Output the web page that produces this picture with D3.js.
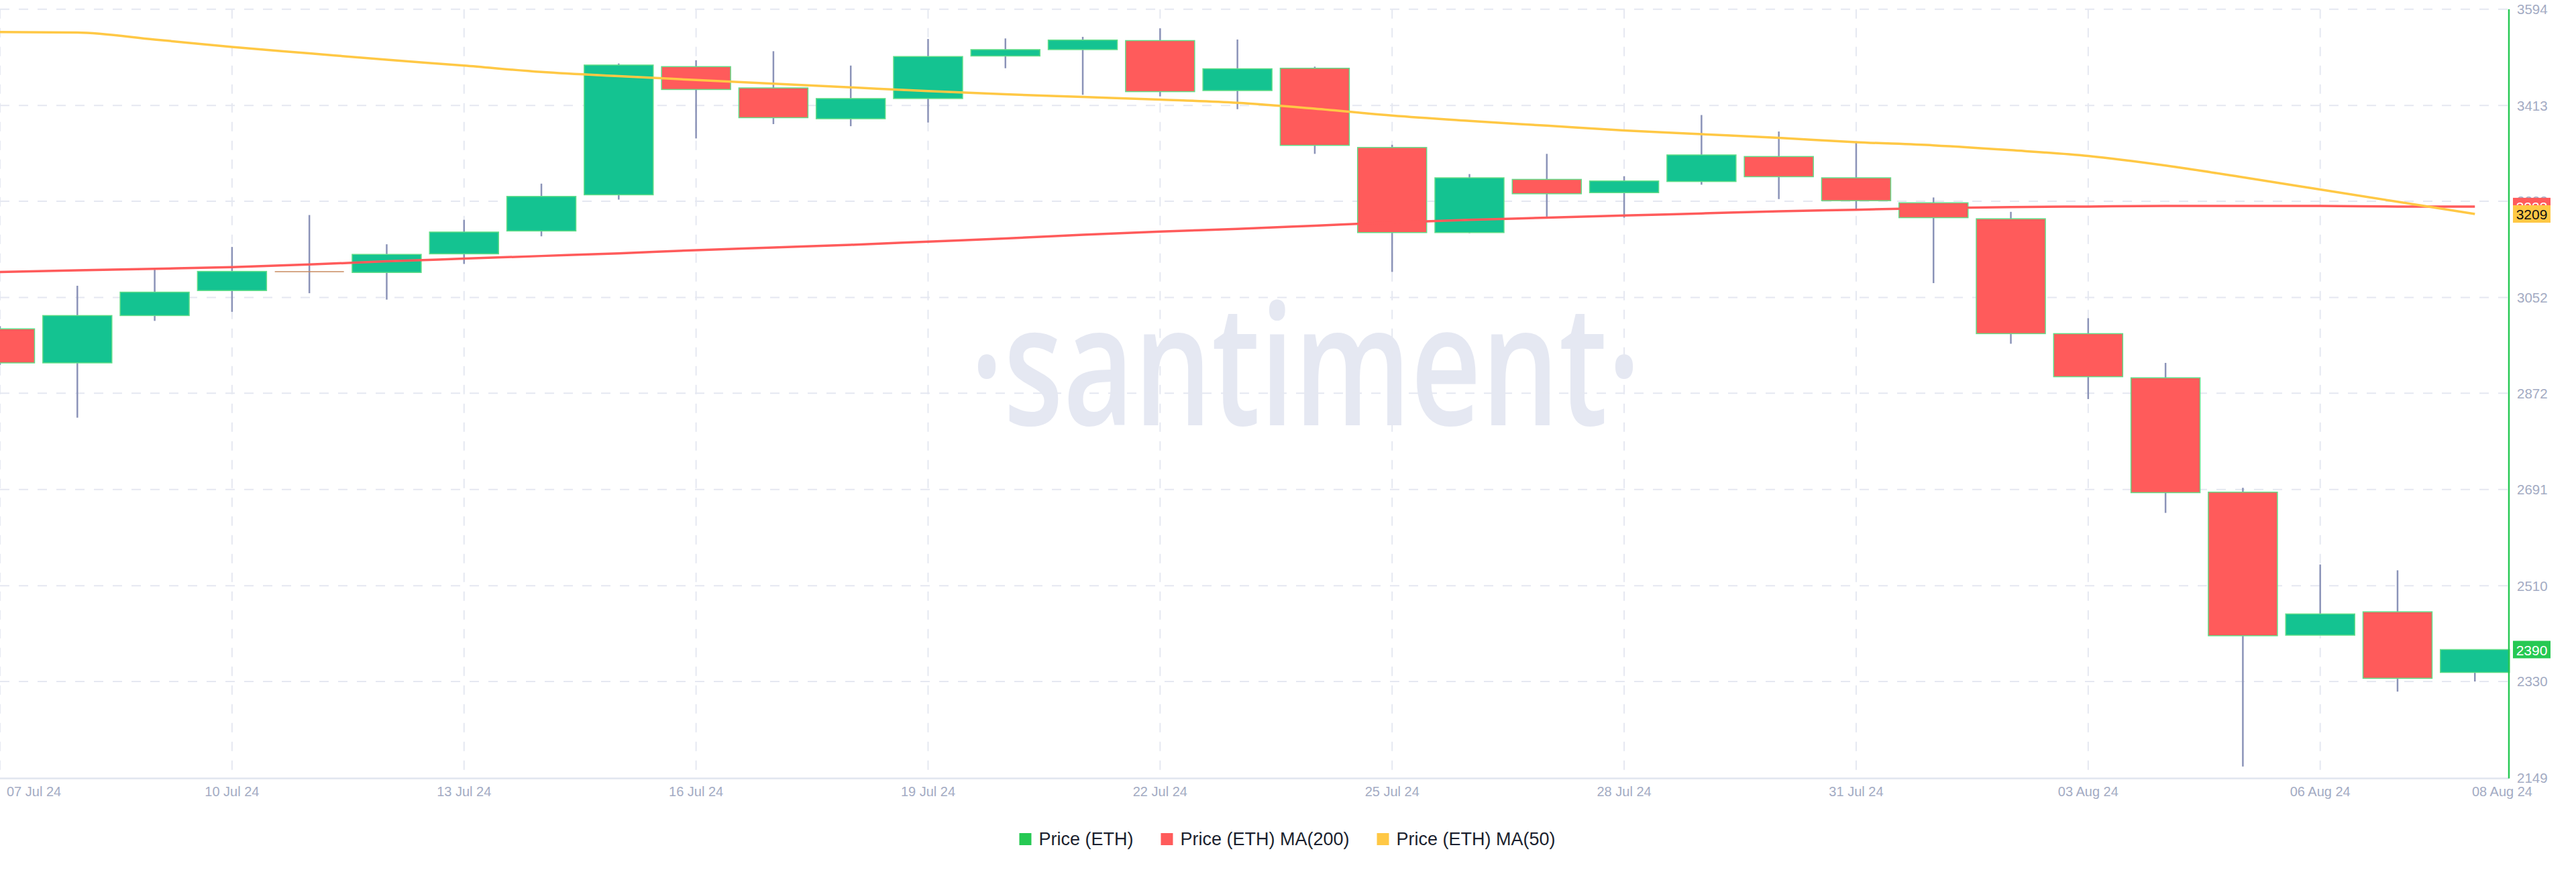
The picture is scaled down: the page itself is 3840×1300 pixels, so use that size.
<!DOCTYPE html>
<html><head><meta charset="utf-8">
<script src="https://cdn.jsdelivr.net/npm/d3@7"></script>
<style>body{margin:0;background:#fff;} svg{display:block}</style>
</head><body><svg id="c" width="3840" height="1300"></svg>
<script>
const dates = ["07 Jul 24","08 Jul 24","09 Jul 24","10 Jul 24","11 Jul 24","12 Jul 24","13 Jul 24","14 Jul 24","15 Jul 24","16 Jul 24","17 Jul 24","18 Jul 24","19 Jul 24","20 Jul 24","21 Jul 24","22 Jul 24","23 Jul 24","24 Jul 24","25 Jul 24","26 Jul 24","27 Jul 24","28 Jul 24","29 Jul 24","30 Jul 24","31 Jul 24","01 Aug 24","02 Aug 24","03 Aug 24","04 Aug 24","05 Aug 24","06 Aug 24","07 Aug 24","08 Aug 24"];
const opens  = [2993,2929,3018,3065,3101,3099,3134,3177,3245,3486,3446,3388,3426,3506,3518,3535,3441,3483,3334,3174,3274,3249,3270,3317,3277,3230,3200,2984,2901,2686,2417,2461,2347];
const closes = [2929,3018,3062,3101,3100,3133,3175,3242,3489,3443,3390,3426,3505,3518,3536,3439,3482,3338,3174,3277,3247,3271,3320,3279,3234,3202,2984,2903,2685,2416,2457,2336,2390];
const highs  = [2998,3074,3105,3147,3207,3152,3198,3266,3492,3498,3515,3488,3538,3539,3542,3558,3537,3486,3339,3284,3322,3280,3395,3364,3343,3240,3213,3013,2929,2694,2550,2539,2390];
const lows   = [2925,2826,3008,3025,3060,3048,3115,3167,3236,3351,3378,3374,3381,3483,3433,3430,3406,3322,3100,3173,3204,3202,3264,3237,3216,3079,2965,2861,2647,2170,2417,2311,2330];
const ma200  = [3100,3103,3106,3109,3114,3120,3125,3130,3135,3141,3146,3151,3157,3163,3170,3176,3181,3187,3193,3198,3202,3206,3210,3214,3217,3220,3222,3223,3224,3224,3224,3223,3223];
const ma50   = [3551,3550,3537,3523,3511,3499,3488,3476,3468,3461,3454,3447,3440,3434,3429,3424,3418,3407,3394,3384,3375,3366,3359,3352,3344,3338,3329,3318,3300,3278,3255,3232,3209];
const yTicks = [2149,2330,2510,2691,2872,3052,3233,3413,3594];
const xTickLabels = ["07 Jul 24","10 Jul 24","13 Jul 24","16 Jul 24","19 Jul 24","22 Jul 24","25 Jul 24","28 Jul 24","31 Jul 24","03 Aug 24","06 Aug 24"];
const lastLabel = "08 Aug 24";
const legendLabels = ["Price (ETH)","Price (ETH) MA(200)","Price (ETH) MA(50)"];

const C = {green:"#14c391", red:"#ff5b5b", yellow:"#ffc845", axisG:"#26c953", wick:"#8b93b8", grid:"#e5e8f1", lbl:"#a3abc3"};
const W = 3740, TOP = 13.7, BOT = 1159.5;
const svg = d3.select("#c");
const x = d3.scaleLinear().domain([0, 32.44]).range([0, W]);
const y = d3.scaleLinear().domain([2149, 3594]).range([BOT, TOP]);
const font = "'Liberation Sans', Arial, sans-serif";

// watermark
svg.append("text").attr("x", 1946).attr("y", 634).attr("text-anchor","middle")
  .attr("font-family","'Open Sans', sans-serif").attr("font-size", 250).attr("font-weight", 600)
  .attr("textLength", 1000).attr("lengthAdjust","spacingAndGlyphs")
  .attr("fill","#e5e8f2").text("·santiment·");

// grid
const g = svg.append("g");
g.selectAll(".hg").data(yTicks.slice(1)).join("line")
  .attr("x1",0).attr("x2",W).attr("y1",d=>y(d)).attr("y2",d=>y(d))
  .attr("stroke",C.grid).attr("stroke-width",2).attr("stroke-dasharray","14,14");
g.selectAll(".vg").data(xTickLabels).join("line")
  .attr("x1",d=>x(dates.indexOf(d))).attr("x2",d=>x(dates.indexOf(d)))
  .attr("y1",TOP).attr("y2",BOT-8)
  .attr("stroke",C.grid).attr("stroke-width",2).attr("stroke-dasharray","14,14");

// bottom axis
svg.append("line").attr("x1",0).attr("x2",W).attr("y1",BOT+1).attr("y2",BOT+1)
  .attr("stroke","#e1e5ef").attr("stroke-width",2.5);

// x labels
svg.selectAll(".xl").data(xTickLabels).join("text")
  .attr("x",(d,i)=> i===0 ? 10 : x(dates.indexOf(d)))
  .attr("text-anchor",(d,i)=> i===0 ? "start" : "middle")
  .attr("y",1187).attr("font-family",font).attr("font-size",20).attr("fill",C.lbl).text(d=>d);
svg.append("text").attr("x",W+35).attr("y",1187).attr("text-anchor","end")
  .attr("font-family",font).attr("font-size",20).attr("fill",C.lbl).text(lastLabel);

// candles
const idx = d3.range(dates.length);
const bw = 103;
svg.append("g").selectAll("line").data(idx).join("line")
  .attr("x1",i=>x(i)).attr("x2",i=>x(i)).attr("y1",i=>y(highs[i])).attr("y2",i=>y(lows[i]))
  .attr("stroke",C.wick).attr("stroke-width",2.5);
const bodies = svg.append("g");
idx.forEach(i=>{
  const o=opens[i], c=closes[i];
  const y1=y(Math.max(o,c)), y2=y(Math.min(o,c));
  if (y2-y1 < 2) {
    bodies.append("line").attr("x1",x(i)-bw/2).attr("x2",x(i)+bw/2).attr("y1",(y1+y2)/2).attr("y2",(y1+y2)/2)
      .attr("stroke","#c98a5f").attr("stroke-width",1.5);
  } else {
    bodies.append("rect").attr("x",x(i)-bw/2).attr("width",bw).attr("y",y1).attr("height",y2-y1)
      .attr("fill", c>=o ? C.green : C.red).attr("stroke","#62dd88").attr("stroke-width",1.5);
  }
});

// MA lines
const line = d3.line().x((d,i)=>x(i)).y(d=>y(d)).curve(d3.curveMonotoneX);
svg.append("path").datum(ma200).attr("d",line).attr("fill","none").attr("stroke",C.red).attr("stroke-width",3.5);
svg.append("path").datum(ma50).attr("d",line).attr("fill","none").attr("stroke",C.yellow).attr("stroke-width",3.5);

// right axis
svg.append("line").attr("x1",W).attr("x2",W).attr("y1",TOP).attr("y2",BOT+1)
  .attr("stroke",C.axisG).attr("stroke-width",2.5);
svg.selectAll(".yl").data(yTicks).join("text")
  .attr("x",W+12).attr("y",d=>y(d)).attr("dominant-baseline","central")
  .attr("font-family",font).attr("font-size",20.5).attr("fill",C.lbl).text(d=>d);

// price tags
const tags = [
  {v: ma200[ma200.length-1], fill: C.red, tc: "#fff"},
  {v: ma50[ma50.length-1], fill: C.yellow, tc: "#111"},
  {v: closes[closes.length-1], fill: C.axisG, tc: "#fff"}
];
tags.forEach(t=>{
  const cy = y(t.v);
  svg.append("rect").attr("x",W+6).attr("y",cy-13).attr("width",56).attr("height",26).attr("fill",t.fill);
  svg.append("text").attr("x",W+34).attr("y",cy+1).attr("text-anchor","middle").attr("dominant-baseline","central")
    .attr("font-family",font).attr("font-size",21).attr("fill",t.tc).text(Math.round(t.v));
});

// legend
const lg = svg.append("g");
const lcol = [C.axisG, C.red, C.yellow];
let cx = 0;
legendLabels.forEach((t,i)=>{
  const it = lg.append("g");
  it.append("rect").attr("x",0).attr("y",-9).attr("width",18).attr("height",18).attr("fill",lcol[i]);
  const tx = it.append("text").attr("x",29).attr("y",0).attr("dominant-baseline","central")
    .attr("font-family",font).attr("font-size",27).attr("fill","#1b1f2e").text(t);
  const w = 29 + tx.node().getComputedTextLength();
  it.attr("transform",`translate(${cx},0)`);
  cx += w + 41;
});
const total = cx - 41;
lg.attr("transform",`translate(${1919 - total/2},1251)`);
</script></body></html>
